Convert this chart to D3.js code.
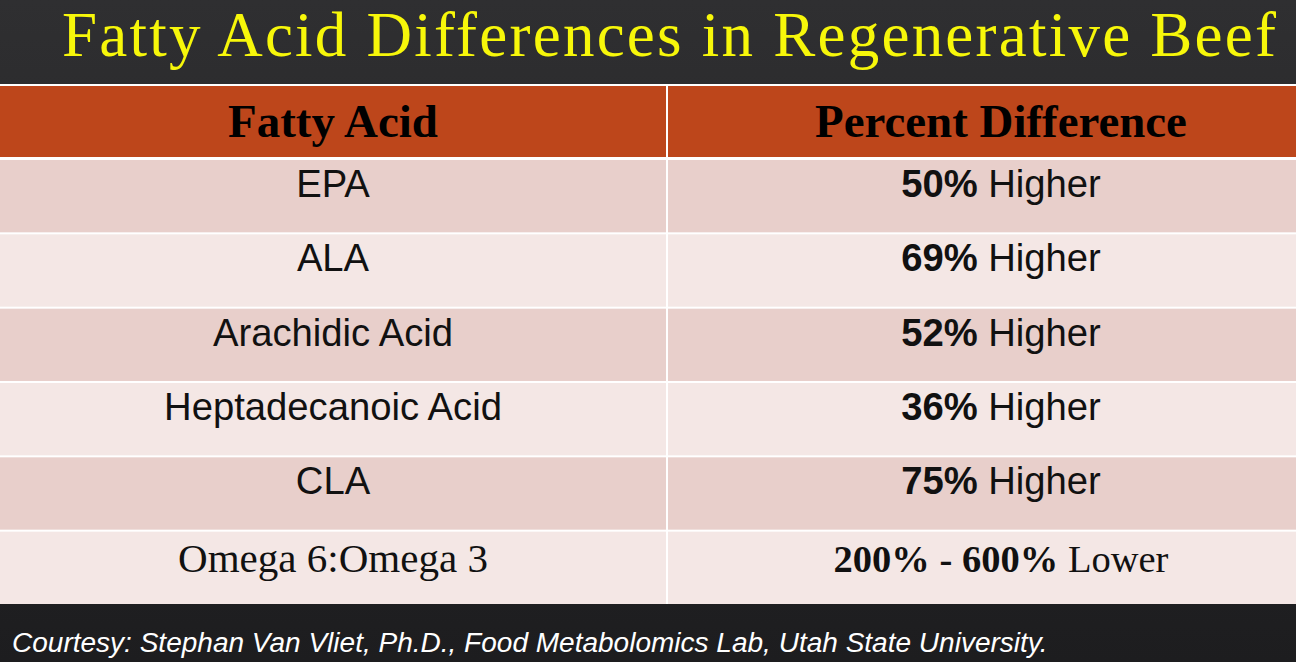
<!DOCTYPE html>
<html><head><meta charset="utf-8">
<script src="https://cdn.jsdelivr.net/npm/d3@7/dist/d3.min.js"></script>
<style>html,body{margin:0;padding:0;background:#262628;overflow:hidden}</style>
</head><body>
<svg id="c" width="1296" height="662"></svg>
<script>
const title = "Fatty Acid Differences in Regenerative Beef";
const headers = ["Fatty Acid", "Percent Difference"];
const acids = ["EPA", "ALA", "Arachidic Acid", "Heptadecanoic Acid", "CLA", "Omega 6:Omega 3"];
const diffs = ["50%", "69%", "52%", "36%", "75%", "200% - 600%"];
const directions = ["Higher", "Higher", "Higher", "Higher", "Higher", "Lower"];
const footer = "Courtesy: Stephan Van Vliet, Ph.D., Food Metabolomics Lab, Utah State University.";

const W = 1296, H = 662;
const svg = d3.select("#c");
const defs = svg.append("defs");
const g = defs.append("linearGradient").attr("id","bg").attr("x1",0).attr("y1",0).attr("x2",0).attr("y2",1);
g.append("stop").attr("offset","0%").attr("stop-color","#2f2f31");
g.append("stop").attr("offset","100%").attr("stop-color","#1d1d1f");
svg.append("rect").attr("width",W).attr("height",H).attr("fill","url(#bg)");

const serif = "'Liberation Serif','Times New Roman',serif";
const sans = "'Liberation Sans',Arial,sans-serif";

function fitSize(sel, target, base) {
  const w = sel.node().getComputedTextLength();
  return base * target / w;
}

// Title: size kept inside the frame, widened slightly to match the reference span
const t = svg.append("text").attr("x", 62).attr("y", 56)
  .attr("font-family", serif).attr("font-size", 63).attr("fill", "#f7f70a").text(title);
const tw = t.node().getComputedTextLength();
t.attr("letter-spacing", Math.max(0, (1214 - tw) / (title.length - 1)));

const colCenter = [333, 1001];
const rowsY = d3.scaleBand().domain(d3.range(acids.length)).range([158, 604]).paddingInner(0);

// white backdrop (grid lines)
svg.append("rect").attr("x",0).attr("y",84).attr("width",W).attr("height",520).attr("fill","#ffffff");
// header cells
headers.forEach((h,i)=>{
  const x0 = i===0 ? 0 : 668, x1 = i===0 ? 666 : W;
  svg.append("rect").attr("x",x0).attr("y",86).attr("width",x1-x0).attr("height",71).attr("fill","#bd461b");
});
const hw = [210, 372];
headers.forEach((h,i)=>{
  const tt = svg.append("text").attr("x", colCenter[i]).attr("y", 137).attr("text-anchor","middle")
    .attr("font-family", serif).attr("font-weight","bold").attr("font-size",42).attr("fill","#000").text(h);
  tt.attr("font-size", fitSize(tt, hw[i], 42));
});

const rowFill = ["#e8cfcb", "#f4e7e5"];
const rows = svg.selectAll("g.row").data(acids).join("g").attr("class","row");
rows.each(function(d,i){
  const gr = d3.select(this);
  const y0 = rowsY(i) + 2, hh = rowsY.bandwidth() - 2;
  gr.append("rect").attr("x",0).attr("y",y0).attr("width",666).attr("height",hh).attr("fill",rowFill[i%2]);
  gr.append("rect").attr("x",668).attr("y",y0).attr("width",W-668).attr("height",hh).attr("fill",rowFill[i%2]);
});

// common sans size from the longest label
const probe = svg.append("text").attr("font-family", sans).attr("font-size", 31).text(acids[3]);
const sansSize = fitSize(probe, 338, 31);
probe.remove();

acids.forEach((a,i)=>{
  const last = i === acids.length - 1;
  const yb = rowsY(i) + (last ? 42 : 39);
  const fam = last ? serif : sans;
  const size = last ? 36 : sansSize;
  const ta = svg.append("text").attr("x", colCenter[0]).attr("y", yb).attr("text-anchor","middle")
    .attr("font-family", fam).attr("font-size", size).attr("fill","#111").text(a);
  if (last) ta.attr("font-size", fitSize(ta, 310, 36));
  const td = svg.append("text").attr("x", colCenter[1]).attr("y", yb).attr("text-anchor","middle")
    .attr("font-family", fam).attr("font-size", size).attr("fill","#111");
  td.append("tspan").attr("font-weight","bold").text(diffs[i]);
  td.append("tspan").text(" " + directions[i]);
  if (last) td.attr("font-size", fitSize(td, 335, 36));
});

// Footer
const tf = svg.append("text").attr("x", 12).attr("y", 652).attr("font-family", sans)
  .attr("font-style","italic").attr("font-size",24).attr("fill","#ffffff").text(footer);
tf.attr("font-size", fitSize(tf, 1036, 24));
</script>
</body></html>
